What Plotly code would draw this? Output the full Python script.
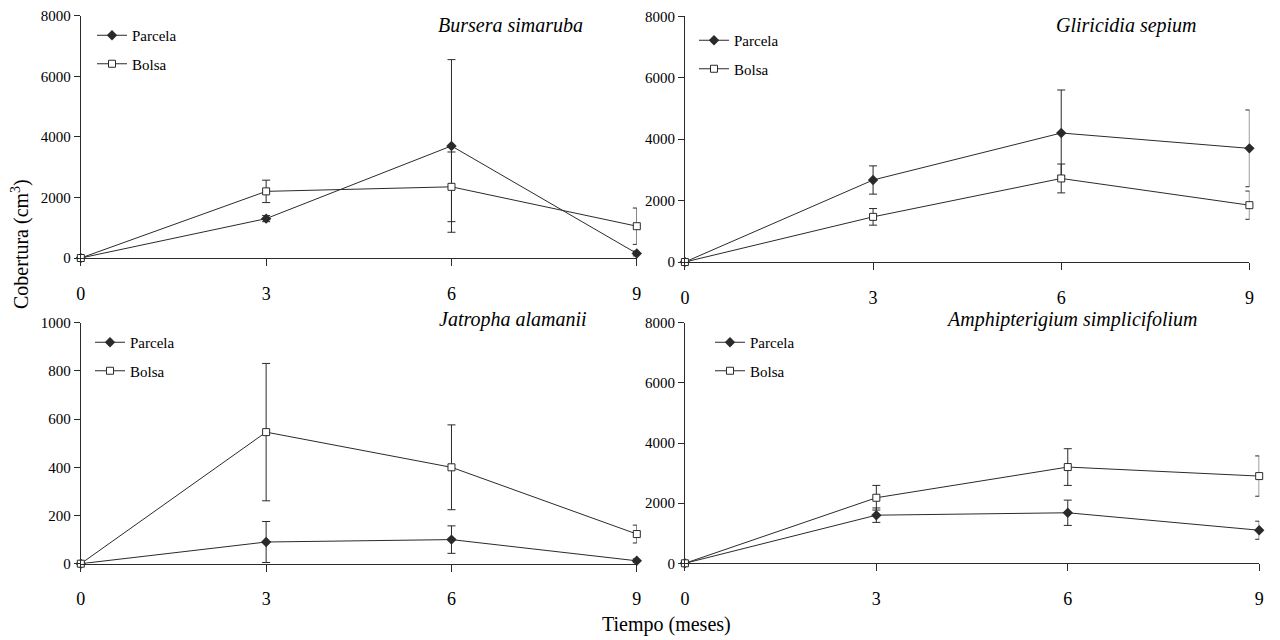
import plotly.graph_objects as go

months = [0, 3, 6, 9]
x_ticks = [0, 3, 6, 9]

species = ["Bursera simaruba", "Gliricidia sepium", "Jatropha alamanii", "Amphipterigium simplicifolium"]

bursera_parcela = [0, 1300, 3700, 150]
bursera_parcela_err = [0, 100, 2850, 80]
bursera_bolsa = [0, 2200, 2350, 1050]
bursera_bolsa_err = [0, 370, 1150, 600]

gliricidia_parcela = [0, 2670, 4200, 3700]
gliricidia_parcela_err = [0, 460, 1400, 1250]
gliricidia_bolsa = [0, 1470, 2720, 1850]
gliricidia_bolsa_err = [0, 270, 470, 460]

jatropha_parcela = [0, 90, 100, 12]
jatropha_parcela_err = [0, 85, 57, 8]
jatropha_bolsa = [0, 546, 400, 123]
jatropha_bolsa_err = [0, 285, 176, 37]

amphi_parcela = [0, 1600, 1680, 1100]
amphi_parcela_err = [0, 240, 420, 300]
amphi_bolsa = [0, 2180, 3200, 2900]
amphi_bolsa_err = [0, 410, 610, 670]

y_ranges = [[0, 8000], [0, 8000], [0, 1000], [0, 8000]]
y_dticks = [2000, 2000, 200, 2000]

panels = [
    (bursera_parcela, bursera_parcela_err, bursera_bolsa, bursera_bolsa_err),
    (gliricidia_parcela, gliricidia_parcela_err, gliricidia_bolsa, gliricidia_bolsa_err),
    (jatropha_parcela, jatropha_parcela_err, jatropha_bolsa, jatropha_bolsa_err),
    (amphi_parcela, amphi_parcela_err, amphi_bolsa, amphi_bolsa_err),
]

# The page body has an 8px margin, so the figure is placed at (8, 8) in the window.
OFF = 8
W, H = 1280 - OFF, 640 - OFF
FONT = "Liberation Serif"
INK = "#2a2a2a"


def px(x):
    return (x - OFF) / W


def py(y):
    return 1 - (y - OFF) / H


# window-pixel layout of each panel: (x at 0, x at 9, y at 0, y at top)
geo = [
    (80.8, 636.8, 258.0, 15.7),
    (684.9, 1249.4, 262.0, 16.3),
    (80.8, 636.8, 563.7, 322.7),
    (684.9, 1259.2, 563.3, 322.7),
]
legend_pos = [(92, 19), (694, 24), (90, 326), (710, 326)]
title_pos = [(585, 25), (1199, 25), (589, 319), (1199, 319)]

fig = go.Figure()
layout = {}
for i, (par, par_e, bol, bol_e) in enumerate(panels):
    n = "" if i == 0 else str(i + 1)
    xa, ya = "x" + n, "y" + n
    lg = "legend" + n
    fig.add_trace(go.Scatter(
        x=months, y=par, name="Parcela", mode="lines+markers",
        xaxis=xa, yaxis=ya, legend=lg, legendgroup=f"p{i}",
        line=dict(color=INK, width=1),
        marker=dict(symbol="diamond", size=8, color=INK),
        error_y=dict(type="data", array=par_e, visible=True, color=INK, thickness=1, width=4),
        cliponaxis=False,
    ))
    fig.add_trace(go.Scatter(
        x=months, y=bol, name="Bolsa", mode="lines+markers",
        xaxis=xa, yaxis=ya, legend=lg, legendgroup=f"b{i}",
        line=dict(color=INK, width=1),
        marker=dict(symbol="square", size=7, color="white", line=dict(color=INK, width=1)),
        error_y=dict(type="data", array=bol_e, visible=True, color=INK, thickness=1, width=4),
        cliponaxis=False,
    ))
    x0, x9, y0, yt = geo[i]
    layout["xaxis" + n] = dict(
        domain=[px(x0), px(x9)], range=[0, 9], anchor=ya, automargin=False,
        tickmode="array", tickvals=x_ticks, ticktext=[str(t) for t in x_ticks],
        ticks="outside", ticklen=7, tickcolor=INK, showline=True, linecolor=INK, linewidth=1,
        showgrid=False, zeroline=False, ticklabelstandoff=12, ticklabeloverflow="allow",
        tickfont=dict(family=FONT, size=18, color="black"),
    )
    layout["yaxis" + n] = dict(
        domain=[py(y0), py(yt)], range=y_ranges[i], anchor=xa, automargin=False,
        dtick=y_dticks[i], tick0=0, ticklabeloverflow="allow",
        ticks="outside", ticklen=6, tickcolor=INK, showline=True, linecolor=INK, linewidth=1,
        showgrid=False, zeroline=False,
        tickfont=dict(family=FONT, size=15, color="black"),
    )
    lx, ly = legend_pos[i]
    layout[lg] = dict(
        x=px(lx), y=py(ly), xanchor="left", yanchor="top",
        bgcolor="rgba(0,0,0,0)", tracegroupgap=6,
        font=dict(family=FONT, size=15, color="black"),
        itemwidth=30,
    )

annotations = []
for i, name in enumerate(species):
    tx, ty = title_pos[i]
    annotations.append(dict(
        text=f"<i>{name}</i>", x=px(tx), y=py(ty), xref="paper", yref="paper",
        xanchor="right", yanchor="middle", showarrow=False,
        font=dict(family=FONT, size=20, color="black"),
    ))
annotations.append(dict(
    text="Cobertura (cm<sup>3</sup>)", x=px(20), y=py(244), xref="paper", yref="paper",
    xanchor="center", yanchor="middle", textangle=-90, showarrow=False,
    font=dict(family=FONT, size=20, color="black"),
))
annotations.append(dict(
    text="Tiempo (meses)", x=px(666), y=py(624), xref="paper", yref="paper",
    xanchor="center", yanchor="middle", showarrow=False,
    font=dict(family=FONT, size=20, color="black"),
))

fig.update_layout(
    width=W, height=H, margin=dict(l=0, r=0, t=0, b=0, autoexpand=False),
    paper_bgcolor="white", plot_bgcolor="white",
    showlegend=True, annotations=annotations, **layout,
)

fig.write_html("out.html")
